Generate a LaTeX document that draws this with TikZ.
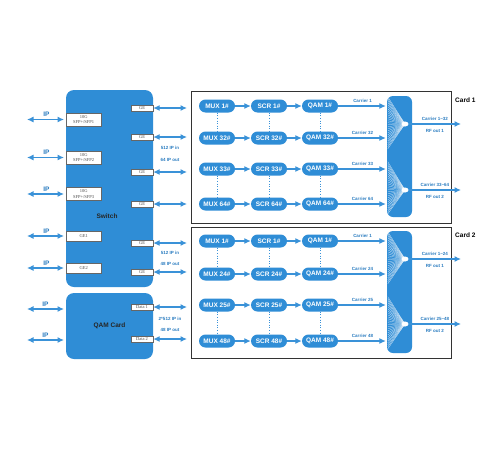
\documentclass[tikz,border=0pt]{standalone}
\usepackage{fontspec}
\setmainfont{Liberation Sans}
\newfontfamily\portfont{Liberation Serif}
\usetikzlibrary{positioning,arrows.meta,shapes.geometric}

\definecolor{qblue}{HTML}{2F8DD6}
\definecolor{ablue}{HTML}{3A92D8}
\definecolor{tblue}{HTML}{2A7CC0}

\tikzstyle{unit}=[rectangle,fill=qblue,rounded corners=8pt,inner sep=0pt,font=\bfseries\fontsize{6.5}{8}\selectfont,text=black!85]
\tikzstyle{pill}=[rectangle,fill=qblue,rounded corners=6.5pt,minimum width=36pt,minimum height=13pt,inner sep=0pt,text=white,font=\bfseries\fontsize{6.5}{8}\selectfont]
\tikzstyle{port}=[rectangle,draw=black!60,fill=white,inner sep=0pt,align=center,text=black!70,font=\portfont\fontsize{4.5}{5.5}\selectfont]
\tikzstyle{gport}=[port,minimum width=22pt,minimum height=6.5pt]
\tikzstyle{card}=[rectangle,draw=black!80,line width=0.9pt,inner sep=0pt]
\tikzstyle{hub}=[ellipse,fill=white,minimum width=7pt,minimum height=5pt,inner sep=0pt]
\tikzstyle{fan}=[white!85!qblue,line width=0.25pt]
\tikzstyle{pre}=[-{Latex[length=6.5pt,width=6pt]},line width=1.2pt,draw=ablue]
\tikzstyle{both}=[{Latex[length=6.5pt,width=6pt]}-{Latex[length=6.5pt,width=6pt]},line width=1.2pt,draw=ablue]
\tikzstyle{dots}=[ablue,dotted,line width=0.6pt]
\tikzstyle{lbl}=[inner sep=0pt,text=tblue,font=\bfseries\fontsize{4.5}{5}\selectfont]
\tikzstyle{iplbl}=[inner sep=0pt,text=tblue,font=\bfseries\fontsize{6.5}{8}\selectfont]
\tikzstyle{cardlbl}=[inner sep=0pt,font=\bfseries\fontsize{6.5}{8}\selectfont]

\begin{document}
\begin{tikzpicture}[x=1pt,y=-1pt]
  \useasboundingbox[fill=white] (0,0) rectangle (500,450);

  % switch and qam card
  \node[unit, minimum width=87pt, minimum height=197pt] (switch) at (109.5,188.5) {};
  \node[unit, fill=none] (swtitle) at (107,216) {Switch};
  \node[unit, minimum width=87pt, minimum height=66pt] (qamcard) at (109.5,326) {QAM Card};

  % ports facing the IP side
  \node[port, anchor=west, minimum width=35pt, minimum height=13pt] (sfp1) at (66,119.5) {10G\\SFP+/SFP1};
  \node[port, anchor=west, minimum width=35pt, minimum height=13pt] (sfp2) at (66,157.5) {10G\\SFP+/SFP2};
  \node[port, anchor=west, minimum width=35pt, minimum height=13pt] (sfp3) at (66,194) {10G\\SFP+/SFP3};
  \node[port, anchor=west, minimum width=35pt, minimum height=10pt] (ge1) at (66,236) {GE1};
  \node[port, anchor=west, minimum width=35pt, minimum height=10pt] (ge2) at (66,268) {GE2};

  \foreach \p/\y in {sfp1/119.5,sfp2/157.5,sfp3/194,ge1/236,ge2/268}{
    \coordinate (ip\p) at (27,\y);
    \draw[both, shorten >=2pt] (ip\p) -- (\p.west) node[iplbl, midway, above=2pt] {IP};
  }
  \coordinate (ipd1) at (27,309);
  \coordinate (qd1) at (64,309);
  \draw[both] (ipd1) -- (qd1) node[iplbl, midway, above=2pt] {IP};
  \coordinate (ipd2) at (27,340);
  \coordinate (qd2) at (64,340);
  \draw[both] (ipd2) -- (qd2) node[iplbl, midway, above=2pt] {IP};

  % ports facing the cards
  \foreach \n/\y in {1/108,2/137,3/172,4/204,5/243,6/272}{
    \node[gport] (ge\n) at (142,\y) {GE};
    \coordinate (geo\n) at (187,\y);
    \draw[both] (ge\n.east) -- (geo\n);
  }
  \node[gport] (data1) at (142,307) {Data 1};
  \coordinate (datao1) at (187,307);
  \draw[both] (data1.east) -- (datao1);
  \node[gport] (data2) at (142,339) {Data 2};
  \coordinate (datao2) at (187,339);
  \draw[both] (data2.east) -- (datao2);

  \node[lbl] (inA)  at (170,148) {512 IP in};
  \node[lbl] (outA) at (170,160) {64 IP out};
  \node[lbl] (inB)  at (170,253) {512 IP in};
  \node[lbl] (outB) at (170,264) {48 IP out};
  \node[lbl] (inC)  at (170,319) {2*512 IP in};
  \node[lbl] (outC) at (170,330) {48 IP out};

  % cards
  \node[card, minimum width=260pt, minimum height=132pt] (card1) at (321,157) {};
  \node[cardlbl, anchor=west] (card1lbl) at (455,100) {Card 1};
  \node[card, minimum width=260pt, minimum height=131pt] (card2) at (321,292.5) {};
  \node[cardlbl, anchor=west] (card2lbl) at (455,235) {Card 2};

  % combiners
  \node[unit, rounded corners=6pt, minimum width=25pt, minimum height=121pt] (combA) at (399.5,156.5) {};
  \node[unit, rounded corners=6pt, minimum width=25pt, minimum height=122pt] (combB) at (399.5,292) {};
  \coordinate (hubA1) at (405,124);
  \coordinate (hubA2) at (405,190);
  \coordinate (hubB1) at (405,259);
  \coordinate (hubB2) at (405,324);
  \foreach \c in {A,B}
    \foreach \k in {0,...,26}{
      \draw[fan] ([xshift=1pt,yshift=-1pt-\k*2pt]comb\c.north west) -- (hub\c1);
      \draw[fan] ([xshift=1pt,yshift=-66pt-\k*2pt]comb\c.north west) -- (hub\c2);
    }
  \node[hub] (outA1) at (hubA1) {};
  \node[hub] (outA2) at (hubA2) {};
  \node[hub] (outB1) at (hubB1) {};
  \node[hub] (outB2) at (hubB2) {};

  % chains
  \foreach \c/\n/\y in {A/1/106,A/32/138,A/33/169,A/64/204,B/1/241,B/24/274,B/25/305,B/48/341}{
    \node[pill] (mux\c\n) at (217,\y) {MUX \n\#};
    \node[pill, right of=mux\c\n, node distance=52pt] (scr\c\n) {SCR \n\#};
    \node[pill, right of=scr\c\n, node distance=51pt] (qam\c\n) {QAM \n\#};
    \draw[pre] (mux\c\n) -- (scr\c\n);
    \draw[pre] (scr\c\n) -- (qam\c\n);
    \draw[pre, shorten >=1pt] (qam\c\n) -- (comb\c.west |- qam\c\n)
      node[lbl, midway, above=3pt] {Carrier \n};
  }
  \foreach \c/\a/\b in {A/1/32,A/33/64,B/1/24,B/25/48}
    \foreach \k in {mux,scr,qam}
      \draw[dots] (\k\c\a.south) -- (\k\c\b.north);

  % rf outputs
  \coordinate (rfA1) at (461,124);
  \draw[pre] (outA1) -- (rfA1) node[lbl, midway, above=3pt] {Carrier 1\textasciitilde32}
    node[lbl, midway, below=5pt] {RF out 1};
  \coordinate (rfA2) at (461,190);
  \draw[pre] (outA2) -- (rfA2) node[lbl, midway, above=3pt] {Carrier 33\textasciitilde64}
    node[lbl, midway, below=5pt] {RF out 2};
  \coordinate (rfB1) at (461,259);
  \draw[pre] (outB1) -- (rfB1) node[lbl, midway, above=3pt] {Carrier 1\textasciitilde24}
    node[lbl, midway, below=5pt] {RF out 1};
  \coordinate (rfB2) at (461,324);
  \draw[pre] (outB2) -- (rfB2) node[lbl, midway, above=3pt] {Carrier 25\textasciitilde48}
    node[lbl, midway, below=5pt] {RF out 2};
\end{tikzpicture}
\end{document}
